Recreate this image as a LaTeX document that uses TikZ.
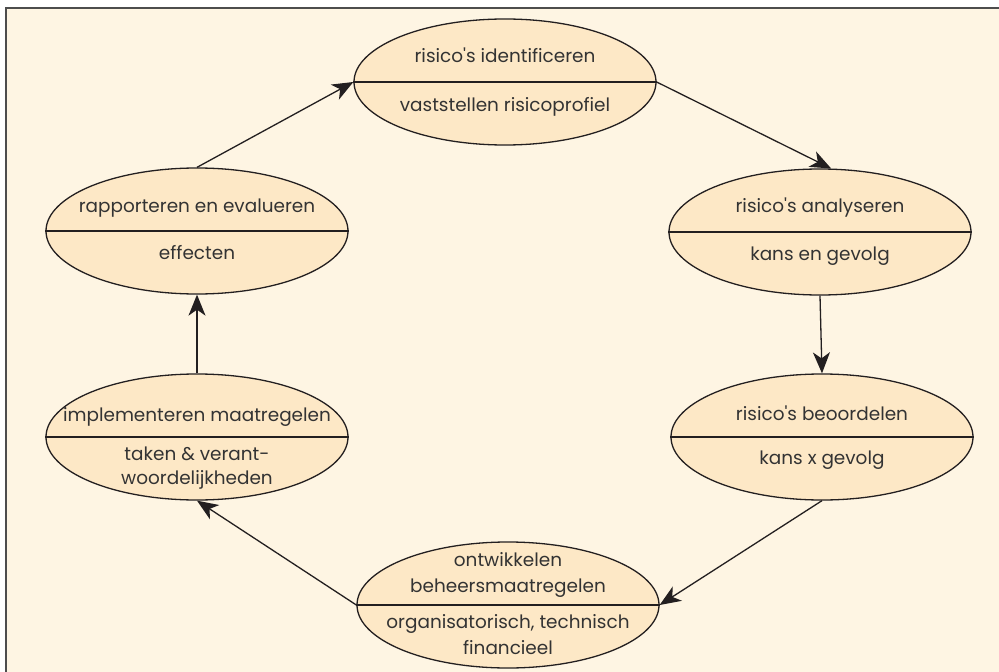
\documentclass[tikz,border=0pt]{standalone}
\usepackage{fontspec}
\setmainfont{Poppins}
\usetikzlibrary{arrows.meta,shapes.geometric}
\definecolor{bgcream}{HTML}{FEF5E3}
\definecolor{ellfill}{HTML}{FDE8C6}
\definecolor{framegray}{HTML}{4D4D4D}
\definecolor{linedark}{HTML}{231F20}
\definecolor{textgray}{HTML}{333333}
\newcommand{\lblfont}{\fontsize{18.5}{24}\selectfont}
\newcommand{\apo}{\textquotesingle}
\tikzset{
  stage/.style={shape=ellipse, draw=linedark, fill=ellfill, line width=1.3bp,
    minimum width=302bp, minimum height=126bp, inner sep=0pt},
  splitline/.style={draw=linedark, line width=1.3bp},
  lbl/.style={anchor=mid, font=\lblfont, text=textgray, inner sep=0pt},
  flow/.style={draw=linedark, line width=1.3bp, -{Stealth[length=21bp,width=17bp,inset=6bp]}}
}
\begin{document}
\begin{tikzpicture}[x=1bp,y=-1bp]
\useasboundingbox (0,0) rectangle (999,672);
\fill[white] (0,0) rectangle (999,672);
\fill[bgcream] (6,8) rectangle (999,672);
\draw[framegray, line width=2.5bp] (6,672) -- (6,8) -- (999,8);

% stages
\node[stage] (e1) at (505,82) {};
\node[stage] (e2) at (820,232) {};
\node[stage] (e3) at (822,437) {};
\node[stage] (e4) at (508,605) {};
\node[stage] (e5) at (197,437) {};
\node[stage] (e6) at (197,231) {};
\foreach \n in {e1,e2,e3,e4,e5,e6} {\draw[splitline] (\n.west) -- (\n.east);}

% labels
\node[lbl] (t1a) at (505,60) {risico\apo s identificeren};
\node[lbl] (t1b) at (505,109) {vaststellen risicoprofiel};
\node[lbl] (t2a) at (820,210) {risico\apo s analyseren};
\node[lbl] (t2b) at (820,258) {kans en gevolg};
\node[lbl] (t3a) at (822,418) {risico\apo s beoordelen};
\node[lbl] (t3b) at (822,462) {kans x gevolg};
\node[lbl] (t4a) at (508,564) {ontwikkelen};
\node[lbl] (t4b) at (508,590) {beheersmaatregelen};
\node[lbl] (t4c) at (508,626) {organisatorisch, technisch};
\node[lbl] (t4d) at (508,652) {financieel};
\node[lbl] (t5a) at (197,419) {implementeren maatregelen};
\node[lbl] (t5b) at (197,458) {taken \& verant-};
\node[lbl] (t5c) at (197,482) {woordelijkheden};
\node[lbl] (t6a) at (197,210) {rapporteren en evalueren};
\node[lbl] (t6b) at (197,257) {effecten};

% connectors
\draw[flow] (e1.east) -- (e2.80);
\draw[flow] (e2.south) -- (e3.north);
\draw[flow] (e3.south) -- (e4.east);
\draw[flow] (e4.west) -- (e5.south);
\draw[flow] (e5.north) -- (e6.south);
\draw[flow] (e6.north) -- (e1.west);
\end{tikzpicture}
\end{document}
